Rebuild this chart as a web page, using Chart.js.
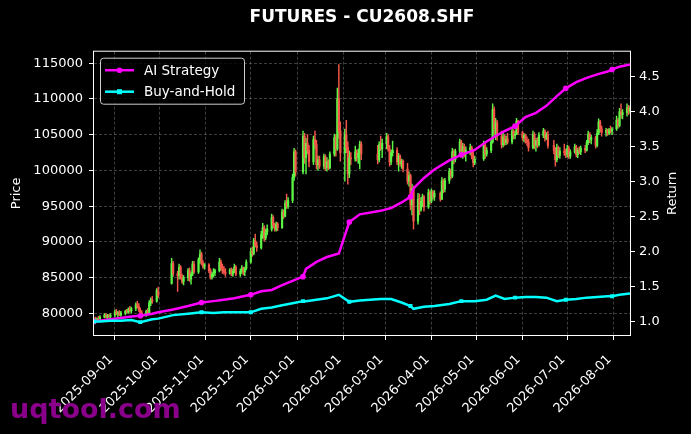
<!DOCTYPE html>
<html lang="en">
<head>
<meta charset="UTF-8">
<title>FUTURES - CU2608.SHF</title>
<script src="https://cdn.jsdelivr.net/npm/chart.js@4"></script>
<style>
  html, body { margin: 0; padding: 0; background: #000; }
  #wrap { width: 691px; height: 434px; }
</style>
</head>
<body>
<div id="wrap"><canvas id="chart"></canvas></div>
<script>
// trading calendar (SHFE sessions, holidays left out)
const tradeMonths = ['2025-08', '2025-09', '2025-10', '2025-11', '2025-12', '2026-01', '2026-02',
                     '2026-03', '2026-04', '2026-05', '2026-06', '2026-07', '2026-08'];
const tradeDays = [
  [18, 19, 20, 21, 22, 25, 26, 27, 28, 29],
  [1, 2, 3, 4, 5, 8, 9, 10, 11, 12, 15, 16, 17, 18, 19, 22, 23, 24, 25, 26, 29, 30],
  [9, 10, 13, 14, 15, 16, 17, 20, 21, 22, 23, 24, 27, 28, 29, 30, 31],
  [3, 4, 5, 6, 7, 10, 11, 12, 13, 14, 17, 18, 19, 20, 21, 24, 25, 26, 27, 28],
  [1, 2, 3, 4, 5, 8, 9, 10, 11, 12, 15, 16, 17, 18, 19, 22, 23, 24, 25, 26, 29, 30, 31],
  [5, 6, 7, 8, 9, 12, 13, 14, 15, 16, 19, 20, 21, 22, 23, 26, 27, 28, 29, 30],
  [2, 3, 4, 5, 6, 9, 10, 11, 12, 13, 24, 25, 26, 27],
  [2, 3, 4, 5, 6, 9, 10, 11, 12, 13, 16, 17, 18, 19, 20, 23, 24, 25, 26, 27, 30, 31],
  [1, 2, 3, 7, 8, 9, 10, 13, 14, 15, 16, 17, 20, 21, 22, 23, 24, 27, 28, 29, 30],
  [6, 7, 8, 11, 12, 13, 14, 15, 18, 19, 20, 21, 22, 25, 26, 27, 28, 29],
  [1, 2, 3, 4, 5, 8, 9, 10, 11, 12, 15, 16, 17, 18, 22, 23, 24, 25, 26, 29, 30],
  [1, 2, 3, 6, 7, 8, 9, 10, 13, 14, 15, 16, 17, 20, 21, 22, 23, 24, 27, 28, 29, 30, 31],
  [3, 4, 5, 6, 7, 10, 11, 12]
];

// daily candles: [open, high, low, close]
const ohlc = [
  // 2025-08
  [79000,79400,78800,79200],[79200,79500,78900,79100],[79100,79400,78900,79300],[79300,79600,79100,79200],
  [79200,79700,79000,79500],[79500,80000,79400,79800],[79800,80000,79400,79500],[79500,79900,79300,79700],
  [79700,79900,79400,79600],[79600,80000,79400,79800],
  // 2025-09
  [79800,80500,79500,80200],[80200,80600,79800,79900],[79900,80300,79500,80100],[80100,80400,79700,79800],
  [79800,80300,79600,80100],[80100,80500,79800,80300],[80300,80600,80000,80200],[80200,80800,80000,80600],
  [80600,81000,80200,80400],[80400,80900,80100,80700],[80700,81500,80400,81200],[81200,81700,80800,81000],
  [81000,81400,80300,80500],[80500,80800,79900,80100],[80100,80400,79500,79800],[79800,80500,79600,80300],
  [80300,80700,79900,80100],[80100,81800,80000,81500],[81500,82200,81100,81900],[81900,82400,81400,81700],
  [81700,83500,81600,83200],[83200,83700,82200,82500],
  // 2025-10
  [84200,87700,84100,87000],[87000,87300,85200,85600],[85600,85900,83100,85300],[85300,86900,84800,86500],
  [86500,86700,84800,85000],[85000,85500,84200,84500],[84500,85300,84000,85000],[85000,86300,84600,86000],
  [86000,86400,84500,84800],[84800,85800,84100,85500],[85500,87300,85300,86900],[86900,87300,85600,85800],
  [85800,87800,85600,87500],[87500,88900,87000,88300],[88300,88600,86800,87100],[87100,87400,86300,86600],
  [86600,87000,86200,86800],
  // 2025-11
  [86800,87000,85700,86000],[86000,86300,84800,85100],[85100,85800,84800,85500],[85500,86300,85100,85700],
  [85700,86200,85300,86000],[86000,87700,85800,87200],[87200,87500,86000,86400],[86400,86900,85600,86100],
  [86100,86600,85500,85800],[85800,86300,85200,85600],[85600,86300,85500,86100],[86100,86400,85300,85500],
  [85500,86200,85200,85900],[85900,86900,85700,86500],[86500,86700,85300,85500],[85500,86200,85200,85900],
  [85900,86700,85600,86400],[86400,86500,85400,85800],[85800,86500,85300,86300],[86300,87500,86100,87200],
  // 2025-12
  [87200,89100,87000,88700],[88700,89300,88000,88400],[88400,90500,88200,90200],[90200,91100,89300,89500],
  [89500,90000,88700,89200],[89200,91500,89000,91000],[91000,92600,90500,92000],[92000,92300,90100,90600],
  [90600,91800,90300,91400],[91400,92400,91000,91800],[91800,93900,91500,93400],[93400,93700,92000,92300],
  [92300,92600,91500,91800],[91800,92800,91500,92500],[92500,92700,91600,92000],[92000,94600,91900,94200],
  [94200,94500,93300,93600],[93600,95800,93500,95400],[95400,96700,94700,95000],[95000,96200,94700,95800],
  [95800,99500,95500,99000],[99000,103100,98600,102600],[102600,102900,99200,99800],
  // 2026-01
  [99800,105500,99500,104800],[104800,105200,101000,101800],[101800,104500,99500,103800],[103800,105000,102300,102800],
  [102800,103500,100500,101200],[101200,104800,100800,104300],[104300,105500,103000,103600],[103600,104200,100200,100800],
  [100800,102000,100000,101500],[101500,102000,100300,100600],[100600,102300,100200,101900],[101900,102200,100000,100400],
  [100400,101800,99900,101200],[101200,101500,100100,100400],[100400,102600,100200,102300],[102300,105100,102000,104600],
  [104600,105000,102000,103000],[103000,111500,102800,110000],[110000,114800,104500,105500],[105500,106800,101300,102500],
  // 2026-02
  [102500,105800,98500,105000],[105000,107000,102500,103200],[103200,104000,98100,99500],[99500,102700,99000,101800],
  [101800,102500,100800,101600],[101600,103400,101300,102600],[102600,102900,101300,101800],[101800,103000,101000,102400],
  [102400,104100,100200,103700],[103700,104000,101500,102300],[102300,103500,100900,101500],[101500,104000,101200,103600],
  [103600,104800,102800,103000],[103000,104400,101800,103800],
  // 2026-03
  [103800,105200,103000,104700],[104700,105000,102700,103000],[103000,103500,100600,101200],[101200,102900,100800,102500],
  [102500,104100,102000,102800],[102800,103200,100800,101200],[101200,102400,99900,102000],[102000,102200,100600,100900],
  [100900,101600,100300,101300],[101300,101500,99800,100200],[100200,101000,98100,98500],[98500,99800,97800,99300],
  [99300,99500,94500,95200],[95200,98100,93800,97500],[97500,97800,91800,92900],[92900,96800,92500,96000],
  [96000,96700,93800,94500],[94500,96200,94300,95700],[95700,96700,94900,96300],[96300,96500,94300,94900],
  [94900,97400,94700,96900],[96900,97200,95300,95700],
  // 2026-04
  [95700,97400,95500,97000],[97000,97200,96000,96300],[96300,97200,95800,96800],[96800,97000,95700,96000],
  [96000,99000,95900,98500],[98500,98800,96900,97400],[97400,98900,97000,98600],[98600,100300,98200,99900],
  [99900,100200,98800,99200],[99200,103100,99000,102600],[102600,102900,100900,101500],[101500,103000,101200,102700],
  [102700,104400,102400,104000],[104000,104200,102300,102800],[102800,103800,101700,103300],[103300,103700,101900,102400],
  [102400,103300,101300,102900],[102900,103700,102200,103200],[103200,103400,101600,102000],[102000,102700,100500,101100],
  [101100,102000,100800,101600],
  // 2026-05
  [101600,104100,101400,103500],[103500,103900,101700,102300],[102300,103200,102000,102800],[102800,104500,102500,104000],
  [104000,109300,103800,108500],[108500,108900,105000,105800],[105800,107300,104300,106700],[106700,107000,104200,104800],
  [104800,105500,103100,103600],[103600,105200,103300,104700],[104700,105000,103500,103900],[103900,104800,103600,104400],
  [104400,105200,103700,104000],[104000,106000,103700,105500],[105500,105700,104400,104900],[104900,105500,104400,105100],
  [105100,107300,105000,106900],[106900,107000,105000,105300],
  // 2026-06
  [105300,105500,104200,104600],[104600,105200,104000,104900],[104900,105100,103800,104200],[104200,104700,103500,104000],
  [104000,104400,102700,103200],[103200,105500,103000,105000],[105000,105300,103000,103500],[103500,104500,102700,104200],
  [104200,104600,103200,103600],[103600,105300,103400,104900],[104900,105900,104600,105500],[105500,105700,104100,104500],
  [104500,105300,104300,105000],[105000,105500,103100,103500],[103500,104200,102300,102800],[102800,103200,100600,101500],
  [101500,103700,101200,103200],[103200,103400,101800,102100],[102100,103200,101700,102700],[102700,103700,102100,102500],
  [102500,103000,101800,102200],
  // 2026-07
  [102200,103500,101900,103100],[103100,103400,101700,102000],[102000,102900,101700,102600],[102600,103700,102400,103300],
  [103300,103500,101900,102200],[102200,103100,101800,102800],[102800,103300,102300,102600],[102600,103400,102200,103100],
  [103100,103500,102500,102800],[102800,104200,102700,103900],[103900,105500,103600,105100],[105100,105300,103900,104300],
  [104300,104900,103700,104600],[104600,104800,103100,103500],[103500,105700,103300,105200],[105200,107200,105000,106800],
  [106800,107000,105400,105800],[105800,106200,104800,105300],[105300,105900,104800,105600],[105600,105800,104900,105200],
  [105200,105900,105000,105700],[105700,106200,105200,105500],[105500,106000,105000,105800],
  // 2026-08
  [105800,107600,105600,107000],[107000,107300,105900,106300],[106300,108700,106100,108200],[108200,109300,107300,107800],
  [107800,108500,107200,108100],[108100,109300,107600,108800],[108800,109100,107800,108300],[108300,109000,108000,108700]
];

// cumulative return curves (read weekly)
const lineDates = [
  '2025-08-18', '2025-08-22', '2025-08-29', '2025-09-05', '2025-09-12',
  '2025-09-18', '2025-09-26', '2025-09-30', '2025-10-10', '2025-10-20',
  '2025-10-29', '2025-11-06', '2025-11-13', '2025-11-20', '2025-11-26',
  '2025-12-01', '2025-12-08', '2025-12-15', '2025-12-22', '2025-12-29',
  '2026-01-05', '2026-01-07', '2026-01-14', '2026-01-21', '2026-01-29',
  '2026-02-05', '2026-02-12', '2026-02-26', '2026-03-05', '2026-03-12',
  '2026-03-18', '2026-03-20', '2026-03-27', '2026-04-03', '2026-04-13',
  '2026-04-21', '2026-04-30', '2026-05-08', '2026-05-14', '2026-05-20',
  '2026-05-27', '2026-06-03', '2026-06-10', '2026-06-17', '2026-06-24',
  '2026-06-30', '2026-07-07', '2026-07-14', '2026-07-21', '2026-07-28',
  '2026-07-31', '2026-08-05', '2026-08-12'
];
const aiReturn = [
  1.00, 1.01, 1.03, 1.05, 1.07,
  1.08, 1.11, 1.13, 1.17, 1.22,
  1.27, 1.29, 1.31, 1.33, 1.36,
  1.38, 1.43, 1.45, 1.52, 1.58,
  1.64, 1.75, 1.85, 1.92, 1.97,
  2.42, 2.53, 2.58, 2.62, 2.70,
  2.78, 2.90, 3.05, 3.17, 3.30,
  3.38, 3.45, 3.57, 3.65, 3.72,
  3.79, 3.92, 3.98, 4.08, 4.22,
  4.33, 4.42, 4.48, 4.53, 4.57,
  4.60, 4.64, 4.67
];
const holdReturn = [
  1.00, 1.00, 1.01, 1.01, 1.02,
  0.99, 1.03, 1.04, 1.09, 1.11,
  1.13, 1.12, 1.13, 1.13, 1.13,
  1.13, 1.18, 1.20, 1.23, 1.26,
  1.29, 1.29, 1.31, 1.33, 1.38,
  1.28, 1.30, 1.32, 1.32, 1.27,
  1.22, 1.18, 1.21, 1.22, 1.25,
  1.29, 1.29, 1.31, 1.37, 1.32,
  1.34, 1.35, 1.35, 1.34, 1.29,
  1.31, 1.32, 1.34, 1.35, 1.36,
  1.36, 1.38, 1.40
];

const dateTicks = ['2025-09-01', '2025-10-01', '2025-11-01', '2025-12-01', '2026-01-01', '2026-02-01',
                   '2026-03-01', '2026-04-01', '2026-05-01', '2026-06-01', '2026-07-01', '2026-08-01'];
const priceTicks = [80000, 85000, 90000, 95000, 100000, 105000, 110000, 115000];
const returnTicks = [1.0, 1.5, 2.0, 2.5, 3.0, 3.5, 4.0, 4.5];

const UP = '#5cf545', DOWN = '#f5564a';
const AI_COLOR = '#ff00ff', HOLD_COLOR = '#00ffff';
const GRID = 'rgba(255,255,255,0.3)';

// x values are days counted from 2025-09-01
const BASE = Date.UTC(2025, 8, 1);
function dayOf(s) {
  const [y, m, d] = s.split('-').map(Number);
  return (Date.UTC(y, m - 1, d) - BASE) / 86400000;
}

const tradeDates = [];
tradeMonths.forEach((m, i) => {
  tradeDays[i].forEach(d => tradeDates.push(m + '-' + String(d).padStart(2, '0')));
});

const wicks = ohlc.map((c, i) => ({ x: dayOf(tradeDates[i]), y: [c[2], c[1]] }));
const bodies = ohlc.map((c, i) => ({ x: dayOf(tradeDates[i]), y: [c[0], c[3]] }));
const aiPts = lineDates.map((d, i) => ({ x: dayOf(d), y: aiReturn[i] }));
const holdPts = lineDates.map((d, i) => ({ x: dayOf(d), y: holdReturn[i] }));

// matplotlib-like 5% margins
const pLo = Math.min(...ohlc.map(c => c[2])), pHi = Math.max(...ohlc.map(c => c[1]));
const rLo = Math.min(...aiReturn, ...holdReturn), rHi = Math.max(...aiReturn, ...holdReturn);

function candleColor(ctx) {
  const c = ohlc[ctx.dataIndex];
  return c && c[3] >= c[0] ? UP : DOWN;
}

const legendItems = [
  { text: 'AI Strategy', color: AI_COLOR, marker: 'circle' },
  { text: 'Buy-and-Hold', color: HOLD_COLOR, marker: 'rect' }
];

// black background, spines, legend box, right axis label, watermark
const decor = {
  id: 'decor',
  beforeDraw(chart) {
    const ctx = chart.ctx;
    ctx.save();
    ctx.fillStyle = '#000';
    ctx.fillRect(0, 0, chart.width, chart.height);
    ctx.restore();
  },
  afterDraw(chart) {
    const { ctx, chartArea: a } = chart;
    ctx.save();

    ctx.strokeStyle = '#ffffff';
    ctx.lineWidth = 1;
    ctx.strokeRect(a.left - 0.5, a.top - 0.5, a.right - a.left + 1, a.bottom - a.top + 1);

    // legend
    const lx = a.left + 6, ly = a.top + 6, lw = 144, lh = 46;
    ctx.beginPath();
    ctx.roundRect(lx + 0.5, ly + 0.5, lw, lh, 3);
    ctx.fillStyle = 'rgba(0,0,0,0.8)';
    ctx.fill();
    ctx.strokeStyle = '#cccccc';
    ctx.stroke();
    ctx.font = '13.5px "DejaVu Sans"';
    ctx.textBaseline = 'middle';
    legendItems.forEach((it, i) => {
      const y = ly + 12.5 + i * 21.5;
      ctx.strokeStyle = it.color;
      ctx.lineWidth = 2.5;
      ctx.beginPath();
      ctx.moveTo(lx + 5, y);
      ctx.lineTo(lx + 34, y);
      ctx.stroke();
      ctx.fillStyle = it.color;
      if (it.marker === 'circle') {
        ctx.beginPath();
        ctx.arc(lx + 19.5, y, 2.8, 0, Math.PI * 2);
        ctx.fill();
      } else {
        ctx.fillRect(lx + 17, y - 2.5, 5, 5);
      }
      ctx.fillStyle = '#ffffff';
      ctx.fillText(it.text, lx + 44, y + 1);
    });

    // right axis title, reading bottom to top
    ctx.save();
    ctx.translate(chart.scales.y1.right - 18, (a.top + a.bottom) / 2);
    ctx.rotate(-Math.PI / 2);
    ctx.font = '13px "DejaVu Sans"';
    ctx.fillStyle = '#ffffff';
    ctx.textAlign = 'center';
    ctx.textBaseline = 'middle';
    ctx.fillText('Return', 0, 0);
    ctx.restore();

    // watermark
    ctx.font = 'bold 27px "DejaVu Sans"';
    ctx.fillStyle = '#8b008b';
    ctx.textAlign = 'left';
    ctx.textBaseline = 'alphabetic';
    ctx.fillText('uqtool.com', 10, 418);

    ctx.restore();
  }
};

Chart.defaults.font.family = '"DejaVu Sans", sans-serif';
Chart.defaults.font.size = 13;
Chart.defaults.color = '#ffffff';

new Chart(document.getElementById('chart'), {
  type: 'line',
  data: {
    datasets: [
      {
        label: 'Buy-and-Hold', data: holdPts, yAxisID: 'y1', order: 0,
        borderColor: HOLD_COLOR, backgroundColor: HOLD_COLOR, borderWidth: 2.5,
        pointStyle: 'rect', pointRadius: ctx => ctx.dataIndex % 5 === 0 ? 2.8 : 0,
        pointBorderWidth: 0, tension: 0
      },
      {
        label: 'AI Strategy', data: aiPts, yAxisID: 'y1', order: 1,
        borderColor: AI_COLOR, backgroundColor: AI_COLOR, borderWidth: 2.5,
        pointStyle: 'circle', pointRadius: ctx => ctx.dataIndex % 5 === 0 ? 2.8 : 0,
        pointBorderWidth: 0, tension: 0
      },
      {
        type: 'bar', label: 'body', data: bodies, yAxisID: 'y', order: 2,
        backgroundColor: candleColor, barThickness: 1.5, grouped: false, borderWidth: 0
      },
      {
        type: 'bar', label: 'wick', data: wicks, yAxisID: 'y', order: 3,
        backgroundColor: candleColor, barThickness: 0.8, grouped: false, borderWidth: 0
      }
    ]
  },
  options: {
    responsive: true,
    maintainAspectRatio: false,
    animation: false,
    events: [],
    layout: { padding: 0 },
    plugins: {
      legend: { display: false },
      tooltip: { enabled: false },
      title: {
        display: true,
        fullSize: false,
        text: 'FUTURES - CU2608.SHF',
        color: '#ffffff',
        font: { size: 17, weight: 'bold' },
        padding: { top: 7.5, bottom: 23.8 }
      }
    },
    scales: {
      x: {
        type: 'linear',
        min: dayOf(lineDates[0]),
        max: dayOf(lineDates[lineDates.length - 1]),
        offset: false,
        afterBuildTicks: s => { s.ticks = dateTicks.map(d => ({ value: dayOf(d) })); },
        afterFit: s => { s.height = 99; },
        ticks: {
          autoSkip: false, minRotation: 45, maxRotation: 45, padding: 12, labelOffset: -4,
          color: '#ffffff', callback: (v, i) => dateTicks[i]
        },
        grid: { color: GRID, lineWidth: 0.8, tickColor: '#ffffff', tickWidth: 1, tickLength: 5, offset: false },
        border: { display: false, dash: [3, 2] }
      },
      y: {
        position: 'left',
        min: pLo - 0.05 * (pHi - pLo),
        max: pHi + 0.05 * (pHi - pLo),
        afterBuildTicks: s => { s.ticks = priceTicks.map(v => ({ value: v })); },
        afterFit: s => { s.width = 94; },
        ticks: { color: '#ffffff', padding: 6, callback: v => String(v) },
        grid: { color: GRID, lineWidth: 0.8, tickColor: '#ffffff', tickWidth: 1, tickLength: 5 },
        border: { display: false, dash: [3, 2] },
        title: { display: true, text: 'Price', color: '#ffffff', padding: { top: 9, bottom: 0 } }
      },
      y1: {
        position: 'right',
        min: rLo - 0.05 * (rHi - rLo),
        max: rHi + 0.05 * (rHi - rLo),
        afterBuildTicks: s => { s.ticks = returnTicks.map(v => ({ value: v })); },
        afterFit: s => { s.width = 61; },
        ticks: { color: '#ffffff', padding: 4, callback: v => v.toFixed(1) },
        grid: { drawOnChartArea: false, tickColor: '#ffffff', tickWidth: 1, tickLength: 5 },
        border: { display: false }
      }
    }
  },
  plugins: [decor]
});
</script>
</body>
</html>
